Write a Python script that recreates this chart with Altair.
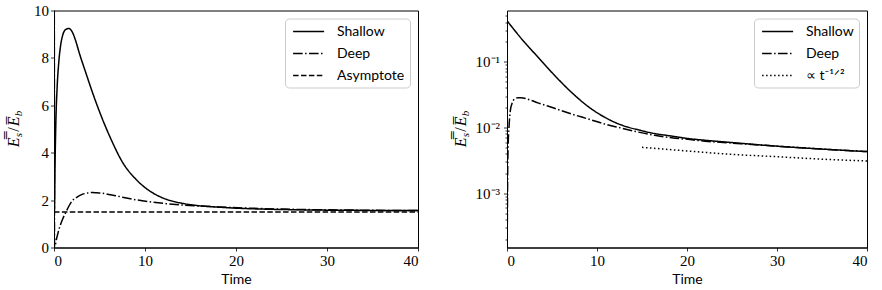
import altair as alt
import pandas as pd

# ---------------- data ----------------
# Left panel: ratio on a linear axis
lin_shallow_t = [0.0, 0.05, 0.12, 0.2, 0.35, 0.5, 0.7, 0.95, 1.3, 1.65, 2.0, 2.4, 2.76, 3.49, 4.23,
                 5.33, 6.43, 7.54, 9.0, 10.5, 12.3, 14.15, 16.0, 17.8, 20.0, 23.0, 27.0, 32.0, 40.0]
lin_shallow_v = [40.0, 1.6, 3.6, 5.2, 6.8, 7.7, 8.45, 8.95, 9.2, 9.24, 9.1, 8.7, 8.23, 7.38, 6.54,
                 5.41, 4.43, 3.59, 2.88, 2.39, 2.04, 1.86, 1.76, 1.71, 1.66, 1.62, 1.59, 1.57, 1.56]
lin_deep_t = [0.0, 0.06, 0.3, 0.55, 0.9, 1.29, 2.0, 2.5, 3.1, 3.7, 4.2, 4.7, 5.3, 6.8, 8.6,
              10.5, 12.3, 14.15, 16.0, 18.0, 21.5, 25.0, 30.0, 35.0, 40.0]
lin_deep_v = [40.0, 0.03, 0.4, 0.77, 1.15, 1.48, 1.97, 2.12, 2.24, 2.3, 2.32, 2.31, 2.29, 2.18, 2.04,
              1.93, 1.85, 1.79, 1.75, 1.71, 1.66, 1.62, 1.59, 1.57, 1.56]
asym_t = [0.0, 40.0]
asym_v = [1.5, 1.5]

# Right panel: same quantities on a log axis
log_shallow_t = [0.0, 1.6, 3.5, 5.3, 7.2, 9.0, 10.9, 12.8, 14.6, 16.4, 18.3, 20.1, 22.0,
                 25.0, 30.0, 35.0, 40.0]
log_shallow_v = [0.42, 0.224, 0.115, 0.0617, 0.0339, 0.0209, 0.0142, 0.0108, 0.0092, 0.0081,
                 0.0074, 0.0068, 0.0064, 0.0059, 0.0052, 0.0047, 0.0043]
log_deep_t = [0.0, 0.04, 0.07, 0.12, 0.22, 0.37, 0.6, 0.85, 1.2, 1.56, 2.2, 3.42, 5.28, 7.14,
              9.0, 10.85, 12.7, 14.6, 16.4, 18.3, 20.1, 22.0, 25.0, 30.0, 35.0, 40.0]
log_deep_v = [0.0002, 0.0004, 0.0017, 0.005, 0.0100, 0.018, 0.024, 0.0272, 0.0282, 0.0283,
              0.0272, 0.0237, 0.0196, 0.0161, 0.0135, 0.0113, 0.0098, 0.0085, 0.0076, 0.0070,
              0.0066, 0.0062, 0.0058, 0.0052, 0.0047, 0.0043]
power_t = [15.0, 20.0, 25.0, 30.0, 35.0, 40.0]
power_v = [0.0050, 0.0044, 0.0039, 0.0036, 0.0033, 0.0031]

left_names = ["Shallow", "Deep", "Asymptote"]
right_names = ["Shallow", "Deep", "\u221d t\u207b\u00b9\u141f\u00b2"]

x_ticks = [0, 10, 20, 30, 40]
lin_y_ticks = [0, 2, 4, 6, 8, 10]
log_y_ticks = [1e-3, 1e-2, 1e-1]
log_y_labels = ["10\u207b\u00b3", "10\u207b\u00b2", "10\u207b\u00b9"]
log_minor_ticks = [k * 10.0 ** e for e in (-4, -3, -2, -1) for k in range(2, 10)
                   if 1.5e-4 <= k * 10.0 ** e <= 0.6]

# y-axis title pieces: (text, font size, offset along text, subscript drop, italic)
title_pieces = [
    ("E\u033f", 16, 0.0, 0, True),
    ("s", 11, 10.0, 3, True),
    ("/", 16, 15.5, 0, False),
    ("E\u0305", 16, 21.0, 0, True),
    ("b", 11, 31.0, 3, True),
]
title_len = 36.5

# ---------------- styling ----------------
W_L, W_R, H = 364, 360, 237
TICK_FONT = "Liberation Serif"
dash_solid = [1, 0]
dash_dashdot = [9.6, 2.4, 1.5, 2.4]
dash_dashed = [5.5, 2.4]
dash_dotted = [1.5, 2.5]


def frame(ts, vs, name):
    return pd.DataFrame({"t": ts, "v": vs, "series": name})


def legend():
    # line sample drawn as a custom path that reaches past its 14px slot
    return alt.Legend(
        title=None, orient="top-right", offset=8, padding=5,
        symbolType="M-0.7,0H3.73", symbolSize=196, symbolStrokeWidth=1.5,
        symbolStrokeColor="black", symbolFillColor="transparent",
        labelFont="Lato", labelFontSize=14, labelColor="black",
        labelOffset=31, rowPadding=7,
        strokeColor="#cccccc", fillColor="white", cornerRadius=4,
    )


def y_title(x_pos, y_pos):
    layers = []
    for text, size, along, drop, italic in title_pieces:
        layers.append(
            alt.Chart(pd.DataFrame({"piece": [text]})).mark_text(
                angle=270, align="left", baseline="alphabetic",
                font="Liberation Serif", fontSize=size,
                fontStyle="italic" if italic else "normal",
                color="black", dx=along - title_len / 2, dy=drop,
            ).encode(text="piece:N", x=alt.value(x_pos), y=alt.value(y_pos))
        )
    return layers


x_enc = alt.X("t:Q", scale=alt.Scale(domain=[0, 40], nice=False),
              axis=alt.Axis(values=x_ticks, title="Time", format="d",
                            labelFont=TICK_FONT, labelFontSize=15))

# ---------------- left panel ----------------
left_df = pd.concat([
    frame(lin_shallow_t, lin_shallow_v, left_names[0]),
    frame(lin_deep_t, lin_deep_v, left_names[1]),
    frame(asym_t, asym_v, left_names[2]),
])
left_lines = alt.Chart(left_df).mark_line(
    color="black", strokeWidth=1.5, clip=True, interpolate="monotone"
).encode(
    x=x_enc,
    y=alt.Y("v:Q", scale=alt.Scale(domain=[0, 10], nice=False),
            axis=alt.Axis(values=lin_y_ticks, title=None, format="d",
                          labelFont=TICK_FONT, labelFontSize=15)),
    strokeDash=alt.StrokeDash(
        "series:N",
        scale=alt.Scale(domain=left_names, range=[dash_solid, dash_dashdot, dash_dashed]),
        legend=legend(),
    ),
)
left = alt.layer(left_lines, *y_title(-35, H / 2)).properties(width=W_L, height=H)

# ---------------- right panel ----------------
right_df = pd.concat([
    frame(log_shallow_t, log_shallow_v, right_names[0]),
    frame(log_deep_t, log_deep_v, right_names[1]),
    frame(power_t, power_v, right_names[2]),
])
log_scale = alt.Scale(type="log", domain=[1.5e-4, 0.6], nice=False)
label_expr = " : ".join(
    f"round(log(datum.value)/LN10) == {e} ? '{lab}'"
    for e, lab in zip([-3, -2], log_y_labels[:2])
) + f" : '{log_y_labels[2]}'"

right_lines = alt.Chart(right_df).mark_line(
    color="black", strokeWidth=1.5, clip=True, interpolate="monotone"
).encode(
    x=x_enc,
    y=alt.Y("v:Q", scale=log_scale,
            axis=alt.Axis(values=log_y_ticks, title=None, orient="left", labelExpr=label_expr,
                          labelPadding=4, labelFont=TICK_FONT, labelFontSize=15)),
    strokeDash=alt.StrokeDash(
        "series:N",
        scale=alt.Scale(domain=right_names, range=[dash_solid, dash_dashdot, dash_dotted]),
        legend=legend(),
    ),
)
minor_ticks = alt.Chart(pd.DataFrame({"v": log_minor_ticks})).mark_point(opacity=0).encode(
    y=alt.Y("v:Q", scale=log_scale,
            axis=alt.Axis(values=log_minor_ticks, title=None, orient="left", labels=False,
                          domain=False, ticks=True, tickSize=2, tickWidth=0.8,
                          tickColor="black")),
)
right = alt.layer(right_lines, minor_ticks, *y_title(-41, H / 2)).resolve_axis(
    y="independent"
).properties(width=W_R, height=H)

chart = alt.hconcat(left, right, spacing=89, bounds="flush").resolve_scale(
    strokeDash="independent"
).resolve_legend(strokeDash="independent").properties(
    padding={"left": 5, "top": 2.5, "right": 0, "bottom": 0}
).configure_view(
    stroke="black", strokeWidth=1
).configure_axis(
    grid=False, domainColor="black", domainWidth=1, tickColor="black", tickSize=3.5,
    tickWidth=0.8, labelFont=TICK_FONT, labelFontSize=15, labelColor="black",
    labelPadding=2, titleFont="Lato", titleFontSize=14, titleFontWeight="normal",
    titleColor="black", titlePadding=4,
)

chart.save("out.html", embed_options={"renderer": "svg", "actions": False})
